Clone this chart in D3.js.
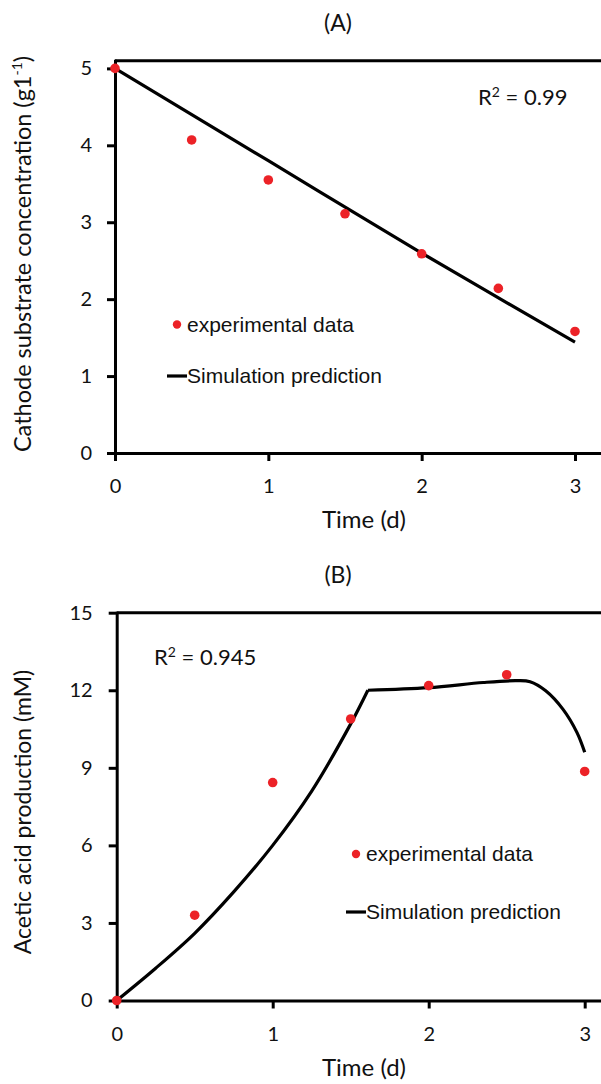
<!DOCTYPE html>
<html>
<head>
<meta charset="utf-8">
<script src="https://cdn.jsdelivr.net/npm/d3@7"></script>
<style>
  html, body { margin: 0; padding: 0; background: #fff; }
  svg { display: block; }
  .axis text { font-family: Lato, "Open Sans", sans-serif; font-size: 20px; fill: #111; }
  .axis path, .axis line { stroke: #000; stroke-width: 3; }
  .ttl { font-family: Lato, "Open Sans", sans-serif; fill: #111; }
  .leg { font-family: "Liberation Sans", Arial, sans-serif; font-size: 21px; fill: #111; }
</style>
</head>
<body>
<script>
// ---- Panel A: cathode substrate concentration ----
const timeTicks = [0, 1, 2, 3];
const concTicks = [0, 1, 2, 3, 4, 5];
const expTimeA = [0, 0.5, 1, 1.5, 2, 2.5, 3];
const expConcA = [5.0, 4.07, 3.55, 3.11, 2.59, 2.14, 1.58];
const simTimeA = [0, 1, 2, 3];
const simConcA = [5.0, 3.8, 2.6, 1.44];

// ---- Panel B: acetic acid production ----
const acidTicks = [0, 3, 6, 9, 12, 15];
const expTimeB = [0, 0.5, 1, 1.5, 2, 2.5, 3];
const expAcidB = [0, 3.3, 8.43, 10.89, 12.18, 12.6, 8.86];
const simTimeRise = [0, 0.25, 0.5, 0.75, 1, 1.25, 1.5, 1.61];
const simAcidRise = [0, 1.25, 2.6, 4.2, 6.0, 8.1, 10.7, 12.0];
const simTimePlateau = [1.61, 2, 2.35, 2.56, 2.65, 2.75, 2.86, 2.95, 3];
const simAcidPlateau = [12.0, 12.1, 12.3, 12.37, 12.33, 11.98, 11.27, 10.37, 9.6];

const W = 601, H = 1084;
const RED = "#ec2227";

const svg = d3.select("body").append("svg")
  .attr("width", W).attr("height", H)
  .attr("viewBox", `0 0 ${W} ${H}`);

const zip = (a, b) => a.map((v, i) => [v, b[i]]);

function panel(cfg) {
  const g = svg.append("g");
  const x = d3.scaleLinear().domain([0, cfg.xMax]).range([cfg.left, W]);
  const y = d3.scaleLinear().domain([0, cfg.yMax]).range([cfg.bottom, cfg.top]);

  // top frame line
  g.append("line")
    .attr("x1", x(0)).attr("x2", W)
    .attr("y1", y(cfg.yMax)).attr("y2", y(cfg.yMax))
    .attr("stroke", "#000").attr("stroke-width", 3);

  // axes
  const ax = g.append("g").attr("class", "axis")
    .attr("transform", `translate(0,${cfg.bottom})`)
    .call(d3.axisBottom(x).tickValues(timeTicks).tickSize(8).tickSizeOuter(0).tickPadding(18).tickFormat(d3.format("d")));
  const ay = g.append("g").attr("class", "axis")
    .attr("transform", `translate(${cfg.left},0)`)
    .call(d3.axisLeft(y).tickValues(cfg.yTicks).tickSize(8).tickSizeOuter(0).tickPadding(cfg.yPad).tickFormat(d3.format("d")));
  ax.selectAll("path").attr("stroke-linecap", "square");
  ay.selectAll("path").attr("stroke-linecap", "square");

  // panel title
  g.append("text").attr("class", "ttl")
    .attr("x", 338).attr("y", cfg.titleY)
    .attr("text-anchor", "middle").attr("font-size", 23)
    .text(cfg.title);

  // x axis title
  g.append("text").attr("class", "ttl")
    .attr("x", 364).attr("y", cfg.bottom + 75)
    .attr("text-anchor", "middle").attr("font-size", 24)
    .text("Time (d)");

  // y axis title
  const yt = g.append("text").attr("class", "ttl")
    .attr("transform", `translate(31,${cfg.yLabelY}) rotate(-90)`)
    .attr("text-anchor", "middle").attr("font-size", cfg.yLabelSize);
  cfg.yLabel(yt);

  // R² annotation
  const r = g.append("text").attr("class", "ttl")
    .attr("x", cfg.r2x).attr("y", cfg.r2y).attr("font-size", 22);
  r.append("tspan").text("R");
  r.append("tspan").attr("dy", -8).attr("font-size", 14).text("2");
  r.append("tspan").attr("dy", 8).text(" = " + cfg.r2);

  // simulation curves
  const line = d3.line().x(d => x(d[0])).y(d => y(d[1])).curve(d3.curveCatmullRom.alpha(0.5));
  cfg.sims.forEach(s => {
    g.append("path").datum(s)
      .attr("d", line)
      .attr("fill", "none").attr("stroke", "#000").attr("stroke-width", 3.2)
      .attr("stroke-linejoin", "round");
  });

  // experimental points
  g.selectAll("circle.pt").data(cfg.exp).join("circle")
    .attr("class", "pt")
    .attr("cx", d => x(d[0])).attr("cy", d => y(d[1]))
    .attr("r", 4.8).attr("fill", RED);

  // legend
  const L = cfg.legend;
  g.append("circle").attr("cx", L.x - 10).attr("cy", L.y1 - 7).attr("r", 4.2).attr("fill", RED);
  g.append("text").attr("class", "leg").attr("x", L.x).attr("y", L.y1).text("experimental data");
  g.append("line").attr("x1", L.x - 20).attr("x2", L.x).attr("y1", L.y2 - 7).attr("y2", L.y2 - 7)
    .attr("stroke", "#000").attr("stroke-width", 3.2);
  g.append("text").attr("class", "leg").attr("x", L.x).attr("y", L.y2).text("Simulation prediction");
}

panel({
  title: "(A)", titleY: 31,
  left: 115, top: 60.7, bottom: 453,
  xMax: (W - 115) / 153.33, yMax: 5.1, yTicks: concTicks, yPad: 15,
  yLabelY: 254, yLabelSize: 23.5,
  yLabel: t => {
    t.append("tspan").text("Cathode substrate concentration (g1");
    t.append("tspan").attr("dy", -9).attr("font-size", 14).text("-1");
    t.append("tspan").attr("dy", 9).text(")");
  },
  r2: "0.99", r2x: 478, r2y: 105,
  sims: [zip(simTimeA, simConcA)],
  exp: zip(expTimeA, expConcA),
  legend: { x: 187, y1: 331.5, y2: 383 }
});

panel({
  title: "(B)", titleY: 583,
  left: 116.7, top: 612.7, bottom: 1000.5,
  xMax: (W - 116.7) / 156, yMax: 15, yTicks: acidTicks, yPad: 16,
  yLabelY: 812, yLabelSize: 23,
  yLabel: t => t.text("Acetic acid production (mM)"),
  r2: "0.945", r2x: 154, r2y: 665,
  sims: [zip(simTimeRise, simAcidRise), zip(simTimePlateau, simAcidPlateau)],
  exp: zip(expTimeB, expAcidB),
  legend: { x: 366, y1: 861, y2: 919 }
});
</script>
</body>
</html>
